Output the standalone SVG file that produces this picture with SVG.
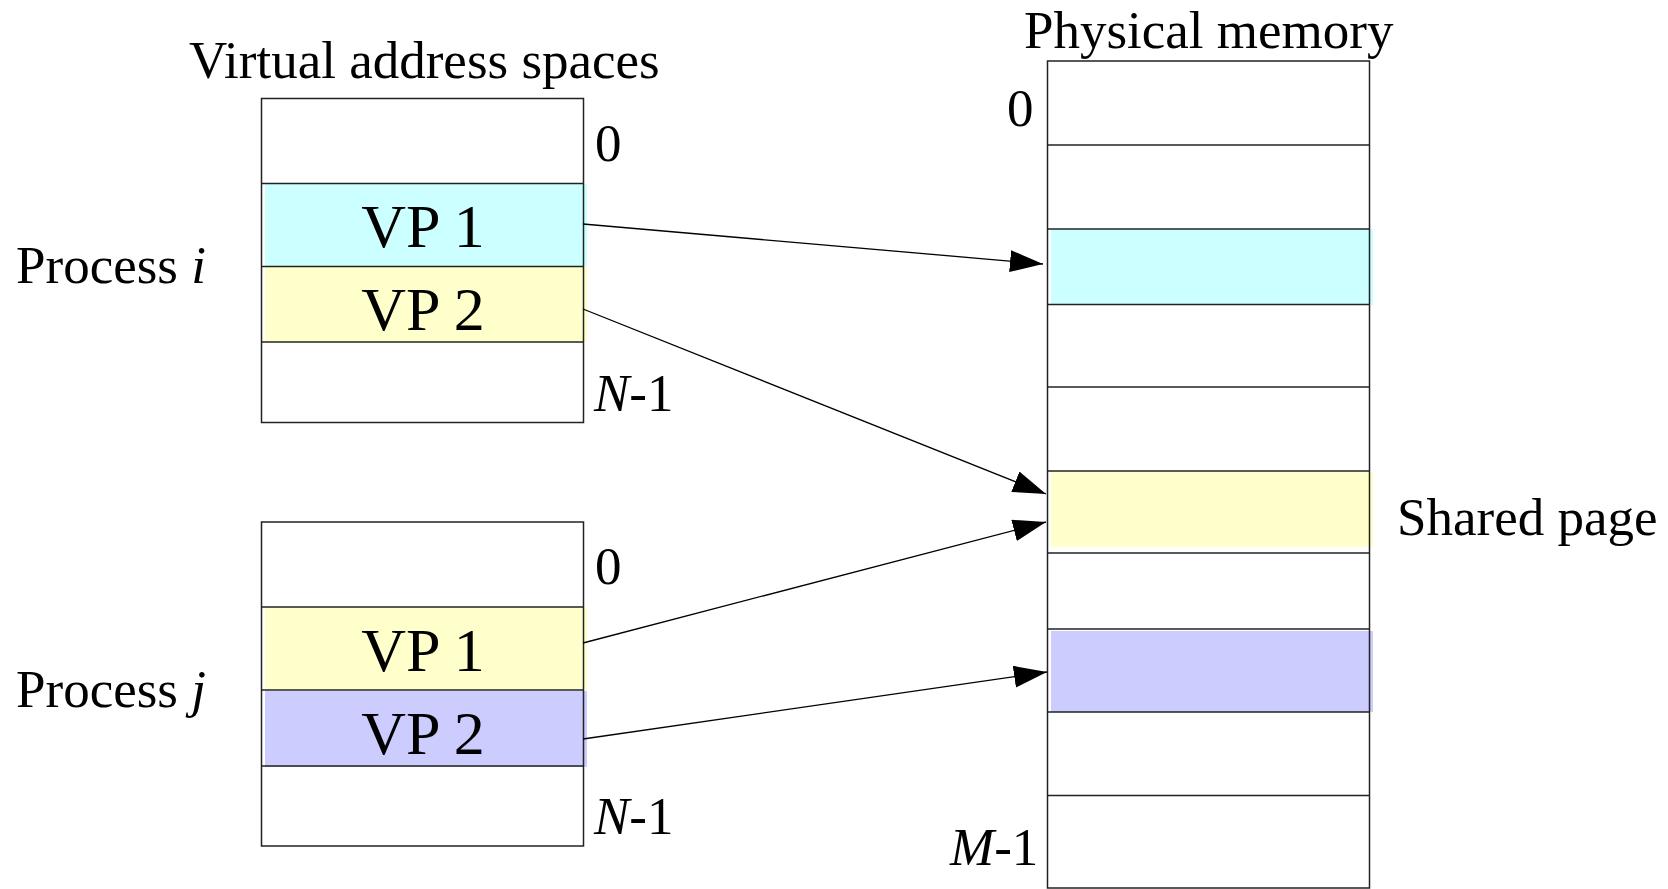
<svg xmlns="http://www.w3.org/2000/svg" width="1668" height="889" viewBox="0 0 1668 889">
<style>
.t{font-family:"Liberation Serif","Times New Roman",serif;fill:#000;}
.lbl{font-size:53px;}
.vp{font-size:62px;text-anchor:middle;}
.box{fill:none;stroke:#222;stroke-width:1.5;}
.ln{stroke:#222;stroke-width:1.5;}
.conn{stroke:#000;stroke-width:1.3;fill:none;marker-end:url(#ah);}
.cy{fill:#CCFFFF;}
.ye{fill:#FFFFCC;}
.bl{fill:#CCCCFF;}
</style>
<defs>
<marker id="ah" markerUnits="userSpaceOnUse" markerWidth="34" markerHeight="24" refX="33" refY="11" orient="auto">
<path d="M0,0 L33,11 L0,22 Z" fill="#000"/>
</marker>
</defs>
<rect width="1668" height="889" fill="#fff"/>
<text class="t lbl" x="189" y="78">Virtual address spaces</text>
<text class="t lbl" x="1024" y="48">Physical memory</text>
<text class="t lbl" x="16" y="283">Process <tspan font-style="italic">i</tspan></text>
<text class="t lbl" x="16" y="707">Process <tspan font-style="italic">j</tspan></text>
<text class="t lbl" x="1397" y="535">Shared page</text>
<g id="proc-i">
<rect class="cy" x="265" y="184" width="322" height="82"/>
<rect class="ye" x="265" y="266" width="322" height="76"/>
<rect class="box" x="261.5" y="98.5" width="322" height="324"/>
<line class="ln" x1="261.5" y1="183.5" x2="583.5" y2="183.5"/>
<line class="ln" x1="261.5" y1="266.5" x2="583.5" y2="266.5"/>
<line class="ln" x1="261.5" y1="342" x2="583.5" y2="342"/>
<text class="t vp" x="423" y="247">VP 1</text>
<text class="t vp" x="423" y="330">VP 2</text>
<text class="t lbl" x="595" y="161">0</text>
<text class="t lbl" x="594" y="411"><tspan font-style="italic">N</tspan>-1</text>
</g>
<g id="proc-j">
<rect class="ye" x="265" y="607" width="322" height="83"/>
<rect class="bl" x="265" y="691" width="322" height="76"/>
<rect class="box" x="261.5" y="522" width="322" height="324"/>
<line class="ln" x1="261.5" y1="607" x2="583.5" y2="607"/>
<line class="ln" x1="261.5" y1="690" x2="583.5" y2="690"/>
<line class="ln" x1="261.5" y1="766" x2="583.5" y2="766"/>
<text class="t vp" x="423" y="671">VP 1</text>
<text class="t vp" x="423" y="754">VP 2</text>
<text class="t lbl" x="595" y="584">0</text>
<text class="t lbl" x="594" y="834"><tspan font-style="italic">N</tspan>-1</text>
</g>
<g id="physical">
<rect class="cy" x="1051" y="229" width="322" height="76"/>
<rect class="ye" x="1051" y="472" width="322" height="75"/>
<rect class="bl" x="1051" y="631" width="322" height="81"/>
<rect class="box" x="1047.5" y="61" width="322" height="827"/>
<line class="ln" x1="1047.5" y1="145" x2="1369.5" y2="145"/>
<line class="ln" x1="1047.5" y1="229" x2="1369.5" y2="229"/>
<line class="ln" x1="1047.5" y1="304.5" x2="1369.5" y2="304.5"/>
<line class="ln" x1="1047.5" y1="387" x2="1369.5" y2="387"/>
<line class="ln" x1="1047.5" y1="471" x2="1369.5" y2="471"/>
<line class="ln" x1="1047.5" y1="553" x2="1369.5" y2="553"/>
<line class="ln" x1="1047.5" y1="629" x2="1369.5" y2="629"/>
<line class="ln" x1="1047.5" y1="712" x2="1369.5" y2="712"/>
<line class="ln" x1="1047.5" y1="795.5" x2="1369.5" y2="795.5"/>
<text class="t lbl" x="1007" y="126">0</text>
<text class="t lbl" x="950" y="865"><tspan font-style="italic">M</tspan>-1</text>
</g>
<g id="connectors">
<line class="conn" x1="583" y1="224" x2="1043" y2="264"/>
<line class="conn" x1="583" y1="309" x2="1046" y2="494"/>
<line class="conn" x1="583" y1="643" x2="1046" y2="522"/>
<line class="conn" x1="583" y1="739" x2="1047" y2="672"/>
</g>
</svg>
